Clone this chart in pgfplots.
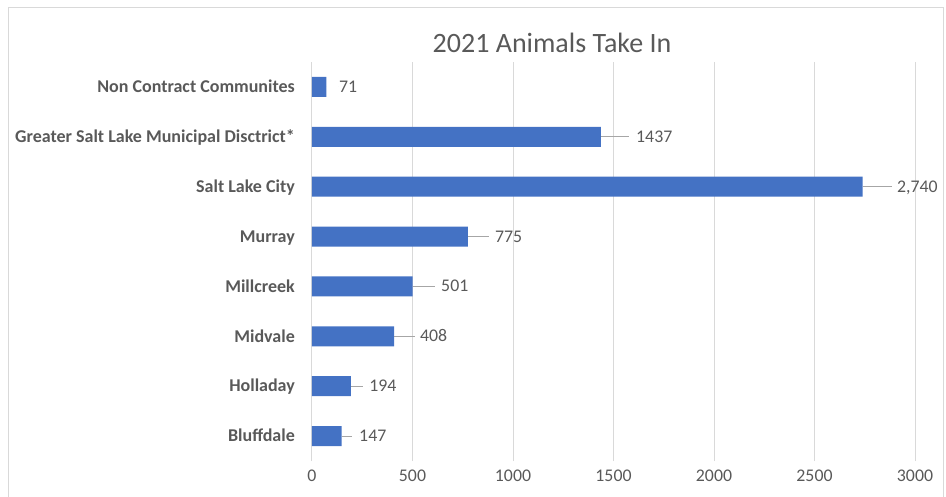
\documentclass[border=0pt]{standalone}
\usepackage{fontspec}
\setmainfont{Carlito}
\usepackage{pgfplots}
\usepackage{pgfplotstable}
\pgfplotsset{compat=1.18}
\definecolor{barblue}{HTML}{4472C4}
\definecolor{txt}{HTML}{595959}
\definecolor{gridc}{HTML}{D9D9D9}
\definecolor{leader}{HTML}{A6A6A6}
\pgfplotstableread{
y v e lx lbl
0 147 52 234 147
1 194 60 284 194
2 408 104 537 408
3 501 111 642 501
4 775 106 910 775
5 2740 146 2910 2,740
6 1437 140 1612 1437
7 71 0 134 71
}\data
\begin{document}
\begin{tikzpicture}[x=1pt,y=1pt]
\path[use as bounding box] (0,0) rectangle (946,496);
\draw[gridc, line width=1pt] (8,-5) -- (8,488) -- (943,488) -- (943,-5);
\node[anchor=base, text=txt, inner sep=0pt, font=\fontsize{28}{32}\selectfont] at (552,443) {2021 Animals Take In};
\begin{axis}[
  at={(312pt,35pt)}, anchor=south west,
  width=603pt, height=399pt, scale only axis,
  xmin=0, xmax=3000, ymin=-0.5, ymax=7.5,
  xtick={0,500,1000,1500,2000,2500,3000}, ytick={0,1,2,3,4,5,6,7},
  yticklabels={Bluffdale, Holladay, Midvale, Millcreek, Murray, Salt Lake City, Greater Salt Lake Municipal Disctrict*, Non Contract Communites},
  xmajorgrids, major grid style={gridc, line width=1pt},
  axis line style={draw=none}, major tick length=0pt,
  /pgf/number format/1000 sep={},
  /pgf/number format/assume math mode=true,
  xticklabel style={anchor=north, inner sep=0pt, yshift=-8.5pt, text=txt, font=\fontsize{17.8}{20}\selectfont},
  yticklabel style={anchor=base east, inner sep=0pt, xshift=-17pt, yshift=-5.8pt, text=txt, font=\bfseries\fontsize{18}{20}\selectfont},
  clip=false,
]
\addplot[xbar, bar width=20pt, fill=barblue, draw=none] table[x=v,y=y]{\data};
\addplot[draw=none, mark=*, mark size=0pt, mark options={draw=none,fill=none},
  error bars/.cd, x dir=plus, x explicit, error mark=none,
  error bar style={draw=leader, line width=1pt}] table[x=v,y=y,x error=e]{\data};
\addplot[only marks, mark=*, mark size=0pt, mark options={draw=none,fill=none},
  nodes near coords, point meta=explicit symbolic,
  every node near coord/.append style={anchor=base west, inner sep=0pt, yshift=-5.5pt, text=txt, font=\fontsize{17.8}{20}\selectfont}]
  table[x=lx,y=y,meta=lbl]{\data};
\end{axis}
\end{tikzpicture}
\end{document}
